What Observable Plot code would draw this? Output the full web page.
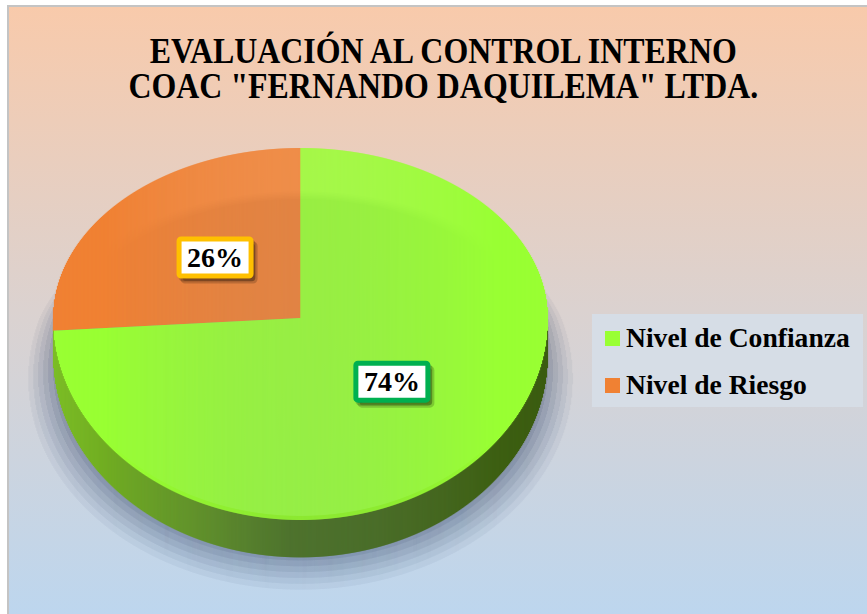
<!DOCTYPE html>
<html><head><meta charset="utf-8">
<script src="https://cdn.jsdelivr.net/npm/d3@7"></script>
<script src="https://cdn.jsdelivr.net/npm/@observablehq/plot@0.6"></script>
<style>
html,body{margin:0;padding:0;background:#fff;}
#wrap{position:relative;width:867px;height:614px;overflow:hidden;background:#fff;font-family:"Liberation Serif","Times New Roman",serif;}
#panel{position:absolute;left:7px;top:5px;right:0;bottom:0;border-left:2px solid #c4c4c4;border-top:2px solid #c4c4c4;
  background:linear-gradient(to bottom,#f8caab 0%,#dbd2d0 50%,#bdd6ee 100%);}
#title{position:absolute;left:10px;width:867px;top:34px;text-align:center;font-weight:bold;font-size:36px;line-height:35px;color:#000;}
#title div{display:block;white-space:nowrap;}
#title span{display:inline-block;transform-origin:center;}
#chart{position:absolute;left:0;top:0;width:867px;height:614px;}
#chart svg{display:block;width:867px;height:614px;max-width:none;}
#legend{position:absolute;left:592px;top:314px;width:271px;height:93px;background:#d6dde6;}
.item{position:absolute;left:0;height:30px;}
.sw{position:absolute;left:13px;width:15px;height:15px;}
.lt{position:absolute;left:34px;font-weight:bold;font-size:27.6px;line-height:30px;white-space:nowrap;color:#000;}
</style></head>
<body>
<div id="wrap">
  <div id="panel"></div>
  <div id="title"></div>
  <div id="chart"></div>
  <div id="legend"></div>
</div>
<script>
// ---- data ----
const categories = ["Nivel de Confianza", "Nivel de Riesgo"];
const percents = [74, 26];
const labels = ["74%", "26%"];
const sliceColors = ["#99ff33", "#f08133"];
const greenSideStops = ["#7cbd26", "#5e931b", "#446c15", "#3b5c11"];
const orangeSide = "#b35c1f";
const labelBorders = ["#00b050", "#ffc000"];
const titleLines = ["EVALUACIÓN AL CONTROL INTERNO", "COAC \"FERNANDO DAQUILEMA\" LTDA."];

// ---- geometry (unit-circle space; the x/y scales give the tilted 3D look) ----
const depth = 0.185;
const slices = d3.pie().sort(null).value(d => d.value)(
  categories.map((c, i) => ({category: c, value: percents[i], i}))
);
function sliceAt(x, y) {
  let a = Math.atan2(x, -y);
  if (a < 0) a += 2 * Math.PI;
  return slices.findIndex(p => a >= p.startAngle && a < p.endAngle);
}
const N = 496, dx = 2 / N;
const cols = d3.range(N).map(k => -1 + (k + 0.5) * dx);
const sideColor = d3.scaleLinear().domain([-1, -0.44, -0.04, 1]).range(greenSideStops);

// top faces: vertical strips split where the slice edges cross them
const topRects = [];
cols.forEach(xc => {
  const h = Math.sqrt(Math.max(0, 1 - xc * xc));
  const ys = [-h, h];
  slices.forEach(p => [p.startAngle, p.endAngle].forEach(th => {
    const s = Math.sin(th);
    if (Math.abs(s) < 1e-9) return;
    const t = xc / s;
    if (t > 0) { const y = -Math.cos(th) * t; if (y > -h && y < h) ys.push(y); }
  }));
  ys.sort((a, b) => a - b);
  for (let j = 0; j < ys.length - 1; j++) {
    const si = sliceAt(xc, (ys[j] + ys[j + 1]) / 2);
    if (si < 0) continue;
    topRects.push({x1: xc - dx * 0.6, x2: xc + dx * 0.6, y1: ys[j], y2: ys[j + 1], fill: sliceColors[si]});
  }
});
// side wall (front half)
const sideRects = cols.map(xc => {
  const h = Math.sqrt(Math.max(0, 1 - xc * xc));
  const si = sliceAt(xc, Math.max(h, 1e-6));
  return {x1: xc - dx * 0.6, x2: xc + dx * 0.6, y1: h - 0.02, y2: h + depth, fill: si === 0 ? sideColor(xc) : orangeSide};
});
// soft shadow: stacked translucent ellipses
const shadowLayers = [[1.10, 0.30, 0.05], [1.08, 0.29, 0.06], [1.06, 0.28, 0.07], [1.04, 0.27, 0.08], [1.02, 0.26, 0.09], [1.0, 0.25, 0.10]];
const shadowRects = [];
shadowLayers.forEach(([s, off, a]) => {
  d3.range(Math.round(N * s)).forEach(k => {
    const xc = -s + (k + 0.5) * dx;
    const h = s * Math.sqrt(Math.max(0, 1 - (xc / s) ** 2)) * 0.95;
    shadowRects.push({x1: xc - dx * 0.5, x2: xc + dx * 0.5, y1: off - h, y2: off + h, fill: `rgba(40,60,95,${a})`});
  });
});
const labelData = slices.map(p => {
  const m = (p.startAngle + p.endAngle) / 2, r = 0.49;
  return {x: r * Math.sin(m) + 0.01, y: -r * Math.cos(m) - 0.02, label: labels[p.data.i], i: p.data.i};
});

const chart = Plot.plot({
  width: 867, height: 614, margin: 0,
  x: {type: "linear", domain: [-1, 1], range: [53, 548], axis: null},
  y: {type: "linear", domain: [-1, 0, 1], range: [148, 318, 520], axis: null},
  color: {type: "identity"},
  style: {background: "transparent", overflow: "visible"},
  marks: [
    Plot.rect(shadowRects, {x1: "x1", x2: "x2", y1: "y1", y2: "y2", fill: d => d.fill}),
    Plot.rect(sideRects, {x1: "x1", x2: "x2", y1: "y1", y2: "y2", fill: d => d.fill}),
    Plot.rect(topRects, {x1: "x1", x2: "x2", y1: "y1", y2: "y2", fill: d => d.fill}),
    Plot.text(labelData, {x: "x", y: "y", text: "label", fontSize: 28, fontWeight: "bold",
      fontFamily: "Liberation Serif, Times New Roman, serif", fill: "#000"})
  ]
});
document.getElementById("chart").appendChild(chart);

// boxes behind the percentage labels
chart.querySelectorAll('g[aria-label="text"] text').forEach((el, k) => {
  const b = el.getBBox();
  const d = el.__data__;
  const idx = labelData[typeof d === "number" ? d : k].i;
  const t = el.getAttribute("transform");
  const mk = (dxo, dyo, fill, stroke) => {
    const r = document.createElementNS("http://www.w3.org/2000/svg", "rect");
    r.setAttribute("x", b.x - 8 + dxo); r.setAttribute("y", b.y - 3 + dyo);
    r.setAttribute("width", b.width + 16); r.setAttribute("height", b.height + 6);
    r.setAttribute("rx", 2); r.setAttribute("fill", fill);
    if (stroke) { r.setAttribute("stroke", stroke); r.setAttribute("stroke-width", 5); }
    else { r.setAttribute("stroke", fill); r.setAttribute("stroke-width", 5); }
    if (t) r.setAttribute("transform", t);
    el.parentNode.insertBefore(r, el);
  };
  mk(4, 5, "rgba(0,0,0,0.18)", null);
  mk(2, 3, "rgba(0,0,0,0.18)", null);
  mk(0, 0, "#ffffff", labelBorders[idx]);
});

// title
const tEl = document.getElementById("title");
titleLines.forEach(l => { const d = document.createElement("div"); const s = document.createElement("span"); s.textContent = l; d.appendChild(s); tEl.appendChild(d); });
const spans = tEl.querySelectorAll("span");
const sc = 587 / spans[0].getBoundingClientRect().width;
spans.forEach(s => s.style.transform = `scaleX(${sc})`);

// legend
const leg = document.getElementById("legend");
categories.forEach((c, i) => {
  const it = document.createElement("div"); it.className = "item"; it.style.top = (9 + i * 47) + "px";
  const sw = document.createElement("div"); sw.className = "sw"; sw.style.top = "8px"; sw.style.background = sliceColors[i];
  const lt = document.createElement("div"); lt.className = "lt"; lt.style.top = "0px"; lt.textContent = c;
  it.appendChild(sw); it.appendChild(lt); leg.appendChild(it);
});
</script>
</body></html>
